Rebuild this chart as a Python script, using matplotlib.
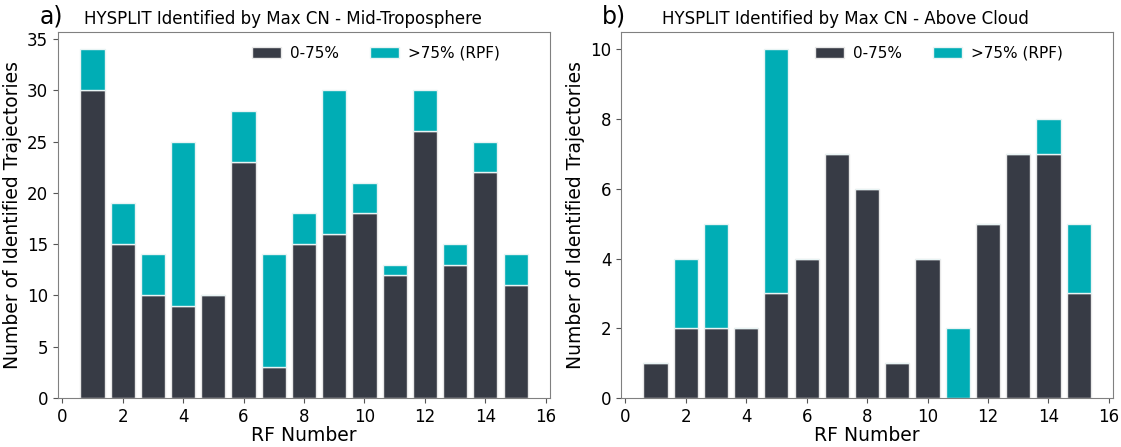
import matplotlib
matplotlib.use("Agg")
import matplotlib.pyplot as plt
import numpy as np

rf = np.arange(1, 16)
mid_low = [30, 15, 10, 9, 10, 23, 3, 15, 16, 18, 12, 26, 13, 22, 11]
mid_rpf = [4, 4, 4, 16, 0, 5, 11, 3, 14, 3, 1, 4, 2, 3, 3]
ac_low = [1, 2, 2, 2, 3, 4, 7, 6, 1, 4, 0, 5, 7, 7, 3]
ac_rpf = [0, 2, 3, 0, 7, 0, 0, 0, 0, 0, 2, 0, 0, 1, 2]

dark = "#373b45"
teal = "#00adb5"

fig = plt.figure(figsize=(11.21, 4.47), dpi=100)
ax1 = fig.add_axes([0.0517, 0.1096, 0.439, 0.819])
ax2 = fig.add_axes([0.554, 0.1096, 0.439, 0.819])

panels = [
    (ax1, mid_low, mid_rpf, "HYSPLIT Identified by Max CN - Mid-Troposphere", "a)", [0, 5, 10, 15, 20, 25, 30, 35]),
    (ax2, ac_low, ac_rpf, "HYSPLIT Identified by Max CN - Above Cloud", "b)", [0, 2, 4, 6, 8, 10]),
]
for ax, low, rpf, title, lab, yt in panels:
    ax.bar(rf, low, width=0.8, color=dark, edgecolor="#e8e8e8", linewidth=1, label="0-75%")
    ax.bar(rf, rpf, bottom=low, width=0.8, color=teal, edgecolor="#e8f4f4", linewidth=1, label=">75% (RPF)")
    ax.set_xticks([0, 2, 4, 6, 8, 10, 12, 14, 16])
    ax.set_yticks(yt)
    ax.tick_params(labelsize=12, color="#555555")
    ax.set_xlabel("RF Number", fontsize=13.5, labelpad=0)
    ax.set_ylabel("Number of Identified Trajectories", fontsize=13.5)
    ax.set_title(title, fontsize=12, x=0.457, pad=6)
    for s in ax.spines.values():
        s.set_color("#808080")
    ax.legend(loc="upper right", bbox_to_anchor=(0.926, 1.0), ncol=2, frameon=False, fontsize=11,
              handlelength=1.9, handletextpad=0.6, columnspacing=2.0, borderaxespad=0.5)
    ax.text(0.01, 1.01, lab, transform=ax.transAxes, fontsize=17, ha="right", va="bottom")

fig.savefig("out.png", dpi=100)
